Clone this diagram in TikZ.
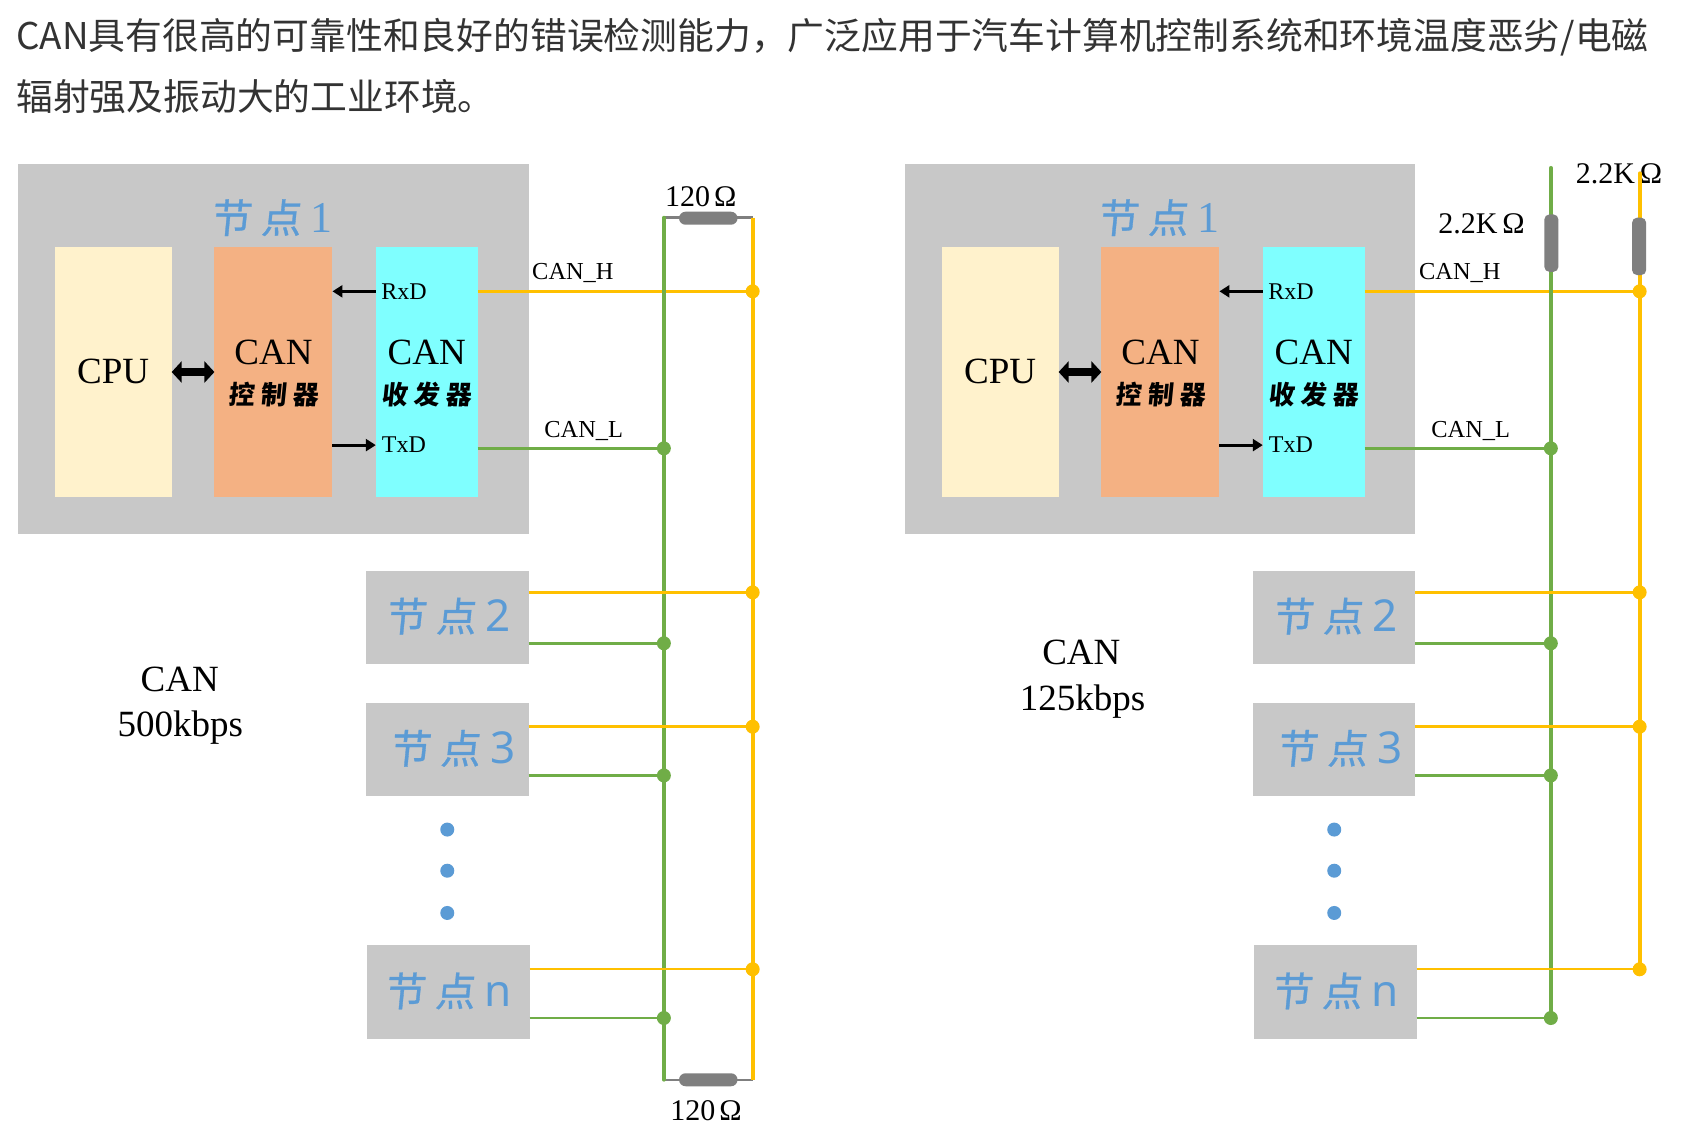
\documentclass[tikz,border=0pt]{standalone}
\usepackage{fontspec}
\setmainfont{Liberation Serif}
\newfontfamily\cjk{Noto Sans CJK SC}
\newfontfamily\cjkh{Noto Sans CJK SC}[FakeSlant=0.1]
\newfontfamily\cjkt{Noto Sans CJK SC}[FakeSlant=0.1,FakeBold=0.8]
\newfontfamily\dig{Noto Sans}
\usetikzlibrary{arrows.meta,shapes.misc}
\definecolor{pan}{HTML}{C8C8C8}
\definecolor{cpuc}{HTML}{FFF2CC}
\definecolor{ctl}{HTML}{F4B183}
\definecolor{trx}{HTML}{7FFFFF}
\definecolor{bl}{HTML}{5B9BD5}
\definecolor{yw}{HTML}{FFC000}
\definecolor{gn}{HTML}{70AD47}
\definecolor{rs}{HTML}{7F7F7F}
\def\u{0.5415pt}
\tikzset{
  x=\u, y=-\u,
  box/.style 2 args={inner sep=0pt,outer sep=0pt,minimum width=#1*\u,minimum height=#2*\u},
  txt/.style={inner sep=0pt,outer sep=0pt,text=black},
  big/.style={txt,font=\fontsize{18.5}{20}\selectfont},
  sm/.style={txt,font=\fontsize{12}{14}\selectfont},
  ohm/.style={txt,font=\fontsize{15}{17}\selectfont},
  hanz/.style={txt,font=\fontsize{13}{15}\selectfont\cjkh\bfseries},
  ttl/.style={txt,text=bl,font=\fontsize{20}{22}\selectfont\cjkt},
  busG/.style={draw=gn,line width=1.9pt},
  busY/.style={draw=yw,line width=1.9pt},
  wG/.style={draw=gn,line width=1.2pt},
  wY/.style={draw=yw,line width=1.2pt},
  dotG/.style={circle,fill=gn,inner sep=0pt,minimum size=7pt},
  dotY/.style={circle,fill=yw,inner sep=0pt,minimum size=7pt},
  dotB/.style={circle,fill=bl,inner sep=0pt,minimum size=7pt},
  res/.style={rounded rectangle,fill=rs,inner sep=0pt},
  resV/.style={rounded corners=2.5pt,fill=rs,inner sep=0pt},
  arr/.style={draw=black,line width=1.4pt,-{Triangle[length=5pt,width=6pt]}},
  darr/.style={draw=black,line width=3.6pt,{Triangle[length=5pt,width=10.5pt]}-{Triangle[length=5pt,width=10.5pt]}},
  para/.style={inner sep=0pt,outer sep=0pt,anchor=west,text=black!80,font=\fontsize{18.4}{20}\selectfont\cjk},
}
\newcommand{\ttlgap}{\hspace{5pt}}
\begin{document}
\begin{tikzpicture}
\useasboundingbox[fill=white] (0,0) rectangle (1567.9,1050.8);
\node[para] (line1) at (15,34) {CAN具有很高的可靠性和良好的错误检测能力，广泛应用于汽车计算机控制系统和环境温度恶劣/电磁};
\node[para] (line2) at (15,89) {辐射强及振动大的工业环境。};

\foreach \p/\dx in {L/0,R/819}{
  % boxes
  \node[box={471}{342},fill=pan] (node1\p) at (252.5+\dx,322) {};
  \node[box={108}{231},fill=cpuc] (cpu\p) at (104.5+\dx,343.5) {};
  \node[box={109}{231},fill=ctl] (ctrl\p) at (252.5+\dx,343.5) {};
  \node[box={94}{231},fill=trx] (trans\p) at (394+\dx,343.5) {};
  \node[box={150}{86},fill=pan] (node2\p) at (413+\dx,570) {};
  \node[box={150}{86},fill=pan] (node3\p) at (413+\dx,692) {};
  \node[box={150}{86},fill=pan] (nodeN\p) at (414+\dx,916) {};
  % titles
  \node[ttl] (t1\p) at (251+\dx,201) {节\ttlgap 点\ttlgap{\fontfamily{lmr}\rmfamily\fontsize{22}{24}\selectfont\mdseries 1}};
  \node[ttl] (t2\p) at (414+\dx,569) {节\ttlgap 点\ttlgap{\dig\mdseries\fontsize{22}{24}\selectfont 2}};
  \node[ttl] (t3\p) at (418+\dx,691) {节\ttlgap 点\ttlgap{\dig\mdseries\fontsize{22}{24}\selectfont 3}};
  \node[ttl] (tN\p) at (414+\dx,915) {节\ttlgap 点\ttlgap{\dig\mdseries\fontsize{22}{24}\selectfont n}};
  % inner text
  \node[big] (cpuT\p) at (104.5+\dx,343) {CPU};
  \node[big] (c1\p) at (252.5+\dx,325) {CAN};
  \node[hanz] (c2\p) at (253+\dx,364) {控\hspace{3pt}制\hspace{3pt}器};
  \node[big] (d1\p) at (394+\dx,325) {CAN};
  \node[hanz] (d2\p) at (394+\dx,364) {收\hspace{3pt}发\hspace{3pt}器};
  \node[sm] (rx\p) at (373+\dx,269) {RxD};
  \node[sm] (tx\p) at (373+\dx,411) {TxD};
  \node[sm,font=\fontsize{12.2}{14}\selectfont] (canh\p) at (529+\dx,252) {CAN\_H};
  \node[sm,font=\fontsize{12.2}{14}\selectfont] (canl\p) at (539+\dx,398) {CAN\_L};
  % internal arrows
  \draw[darr] (cpu\p.east |- 0,343.5) -- (ctrl\p.west |- 0,343.5);
  \draw[arr] (trans\p.west |- rx\p) -- (ctrl\p.east |- rx\p);
  \draw[arr] (ctrl\p.east |- tx\p) -- (trans\p.west |- tx\p);
  % dots between nodes
  \node[dotB] (dA\p) at (413+\dx,766) {};
  \node[dotB] (dB\p) at (413+\dx,804) {};
  \node[dotB] (dC\p) at (413+\dx,843) {};
  % junctions
  \coordinate (gj1\p) at (613+\dx,414);
  \coordinate (gj2\p) at (613+\dx,594);
  \coordinate (gj3\p) at (613+\dx,716);
  \coordinate (gjN\p) at (613+\dx,940);
  \coordinate (yj1\p) at (695+\dx,269);
  \coordinate (yj2\p) at (695+\dx,547);
  \coordinate (yj3\p) at (695+\dx,671);
  \coordinate (yjN\p) at (695+\dx,895);
}

% buses, left (with terminating resistors)
\coordinate (gtopL) at (613,201);
\coordinate (ytopL) at (695,201);
\coordinate (gbotL) at (613,997);
\coordinate (ybotL) at (695,997);
\draw[draw=rs,line width=1.2pt] (gtopL) -- (ytopL);
\draw[draw=rs,line width=1.2pt] (gbotL) -- (ybotL);
\node[res,minimum width=54*\u,minimum height=12*\u] (r1L) at (654,201.5) {};
\node[res,minimum width=54*\u,minimum height=12*\u] (r2L) at (654,997) {};
\node[ohm] (o1L) at (647,182) {120\hspace{2pt}Ω};
\node[ohm] (o2L) at (652,1026) {120\hspace{2pt}Ω};
% buses, right (pull-up resistors)
\coordinate (gtopR) at (1432,155);
\coordinate (ytopR) at (1514,160);
\node[ohm] (o1R) at (1368,207) {2.2K\hspace{2.5pt}Ω};
\node[ohm] (o2R) at (1495,160) {2.2K\hspace{2.5pt}Ω};

\foreach \p in {L,R}{
  \draw[wY] (trans\p.east |- yj1\p) -- (yj1\p);
  \draw[wG] (trans\p.east |- gj1\p) -- (gj1\p);
}
\draw[busG,line cap=round] (gtopL) -- (gbotL);
\draw[busY] (ytopL) -- (ybotL);
\draw[busG,line cap=round] (gtopR) -- (gjNR);
\draw[busY,line cap=round] (ytopR) -- (yjNR);
\node[resV,minimum width=13*\u,minimum height=53*\u] (r1R) at (1432.5,224.5) {};
\node[resV,minimum width=13*\u,minimum height=53*\u] (r2R) at (1513.5,227.5) {};

\foreach \p in {L,R}{
  \foreach \n in {2,3}{
    \draw[wY] (node\n\p.east |- yj\n\p) -- (yj\n\p);
    \draw[wG] (node\n\p.east |- gj\n\p) -- (gj\n\p);
  }
  \draw[wY] (nodeN\p.east |- yjN\p) -- (yjN\p);
  \draw[wG] (nodeN\p.east |- gjN\p) -- (gjN\p);
  \foreach \n in {1,2,3,N}{
    \node[dotG] at (gj\n\p) {};
    \node[dotY] at (yj\n\p) {};
  }
}

% rate captions
\node[big] (ra1) at (166,627) {CAN};
\node[big] (ra2) at (166.5,672) {500kbps};
\node[big] (rb1) at (998.5,602) {CAN};
\node[big] (rb2) at (999.5,648) {125kbps};
\end{tikzpicture}
\end{document}
